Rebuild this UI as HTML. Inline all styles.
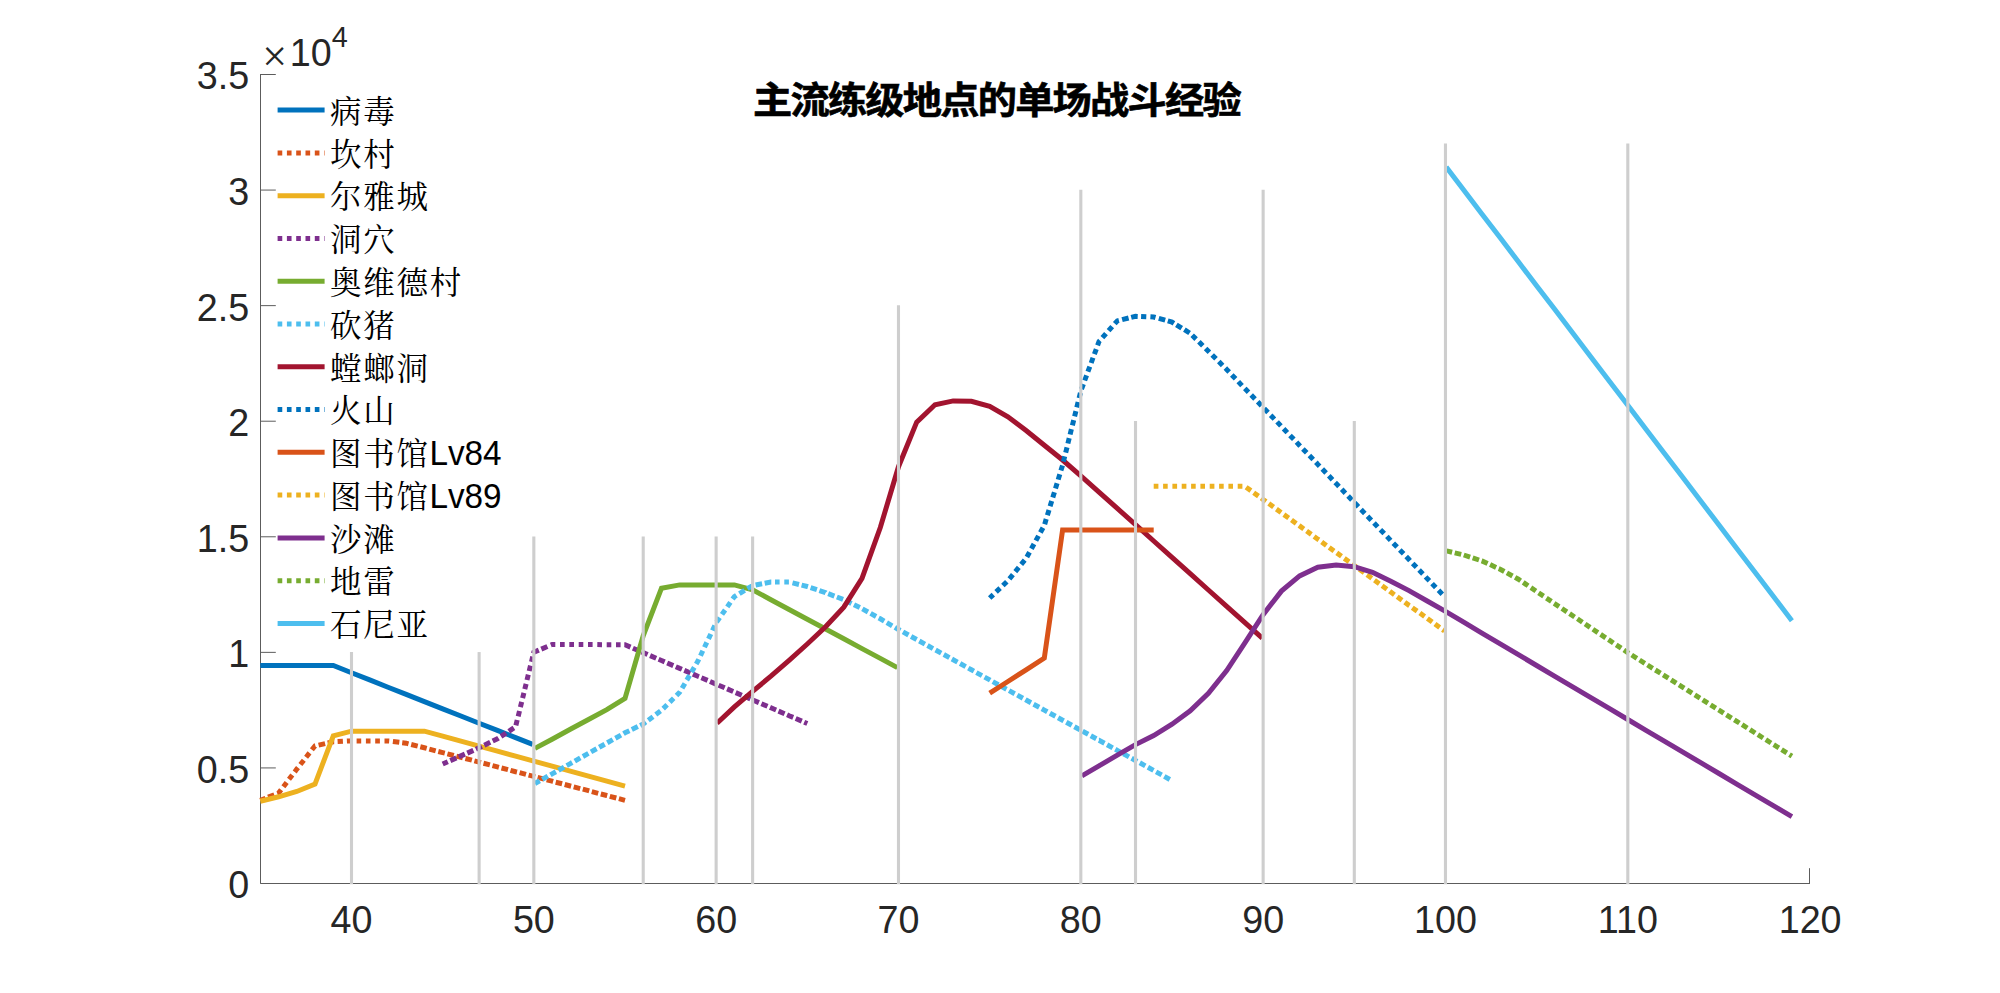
<!DOCTYPE html>
<html lang="zh-CN">
<head>
<meta charset="utf-8">
<title>主流练级地点的单场战斗经验</title>
<style>
html,body{margin:0;padding:0;background:#fff;}
body{width:2000px;height:993px;overflow:hidden;}
svg{display:block;}
.tk{font-family:"Liberation Sans",sans-serif;font-size:37.7px;fill:#262626;}
.lg{font-family:"Liberation Sans","Noto Serif CJK SC",serif;font-size:31.5px;letter-spacing:1.8px;fill:#000;}
.ll{font-family:"Liberation Sans",sans-serif;font-size:34.73px;letter-spacing:0;fill:#000;}
.tt{font-family:"Liberation Sans","Noto Sans CJK SC",sans-serif;font-weight:bold;font-size:39.2px;letter-spacing:-1.74px;fill:#000;stroke:#000;stroke-width:0.7px;}
</style>
</head>
<body>
<svg width="2000" height="993" viewBox="0 0 2000 993">
<rect width="2000" height="993" fill="#fff"/>
<g stroke="#5c5c5c" stroke-width="1" fill="none">
<path d="M260.50 74.00 V883.50 H1810.00"/>
<path d="M260.50 883.50 h15.3"/>
<path d="M260.50 767.93 h15.3"/>
<path d="M260.50 652.36 h15.3"/>
<path d="M260.50 536.79 h15.3"/>
<path d="M260.50 421.21 h15.3"/>
<path d="M260.50 305.64 h15.3"/>
<path d="M260.50 190.07 h15.3"/>
<path d="M260.50 74.50 h15.3"/>
<path d="M351.50 883.50 v-15.3"/>
<path d="M533.83 883.50 v-15.3"/>
<path d="M716.15 883.50 v-15.3"/>
<path d="M898.48 883.50 v-15.3"/>
<path d="M1080.82 883.50 v-15.3"/>
<path d="M1263.14 883.50 v-15.3"/>
<path d="M1445.47 883.50 v-15.3"/>
<path d="M1627.81 883.50 v-15.3"/>
<path d="M1809.50 883.50 v-15.3"/>
</g>
<text class="tk" transform="translate(249.2 898.40) scale(1 1.03)" text-anchor="end">0</text>
<text class="tk" transform="translate(249.2 782.83) scale(1 1.03)" text-anchor="end">0.5</text>
<text class="tk" transform="translate(249.2 667.26) scale(1 1.03)" text-anchor="end">1</text>
<text class="tk" transform="translate(249.2 551.69) scale(1 1.03)" text-anchor="end">1.5</text>
<text class="tk" transform="translate(249.2 436.11) scale(1 1.03)" text-anchor="end">2</text>
<text class="tk" transform="translate(249.2 320.54) scale(1 1.03)" text-anchor="end">2.5</text>
<text class="tk" transform="translate(249.2 204.97) scale(1 1.03)" text-anchor="end">3</text>
<text class="tk" transform="translate(249.2 89.40) scale(1 1.03)" text-anchor="end">3.5</text>
<text class="tk" transform="translate(351.50 933) scale(1 1.03)" text-anchor="middle">40</text>
<text class="tk" transform="translate(533.83 933) scale(1 1.03)" text-anchor="middle">50</text>
<text class="tk" transform="translate(716.15 933) scale(1 1.03)" text-anchor="middle">60</text>
<text class="tk" transform="translate(898.48 933) scale(1 1.03)" text-anchor="middle">70</text>
<text class="tk" transform="translate(1080.82 933) scale(1 1.03)" text-anchor="middle">80</text>
<text class="tk" transform="translate(1263.14 933) scale(1 1.03)" text-anchor="middle">90</text>
<text class="tk" transform="translate(1445.47 933) scale(1 1.03)" text-anchor="middle">100</text>
<text class="tk" transform="translate(1627.81 933) scale(1 1.03)" text-anchor="middle">110</text>
<text class="tk" transform="translate(1810.13 933) scale(1 1.03)" text-anchor="middle">120</text>
<text class="tk" x="262.2" y="71" style="font-family:'Liberation Serif',serif;font-size:44px">×</text>
<text class="tk" transform="translate(289.8 65.8) scale(1 1.03)">10</text>
<text class="tk" transform="translate(331.8 46.9) scale(1 1.03)" style="font-size:28.8px">4</text>
<g transform="translate(753.0 114.1) scale(1 0.944)"><text class="tt" x="0" y="0">主流练级地点的单场战斗经验</text></g>
<g fill="none" stroke-width="5" stroke-linejoin="miter" stroke-linecap="butt">
<polyline stroke="#0072BD" points="260.3,665.5 278.6,665.5 296.8,665.5 315.0,665.5 333.3,665.5 351.5,672.7 369.7,679.9 388.0,687.2 406.2,694.4 424.4,701.6 442.7,708.8 460.9,716.0 479.1,723.2 497.4,730.4 515.6,737.6 532.7,744.4"/>
<path stroke="#D95319" d="M260.3 800.3 L265.6 798.2M268.1 797.2 L274.3 794.8M277.3 793.6 L278.6 793.1 L281.1 789.8M283.4 786.7 L286.7 782.4M289.0 779.3 L292.3 775.0M294.7 771.9 L296.8 769.1 L298.0 767.6M300.4 764.5 L303.8 760.2M306.1 757.2 L309.5 752.9M311.9 749.8 L315.0 745.9 L315.4 745.8M318.6 745.1 L325.1 743.6M327.7 743.0 L333.3 741.8 L334.2 741.8M337.6 741.6 L342.9 741.3M346.9 741.1 L351.5 740.9 L352.2 740.9M356.6 740.9 L361.2 740.9M365.9 740.9 L369.7 740.9 L370.5 740.9M375.2 740.9 L379.9 740.9M384.5 740.9 L388.0 740.9 L389.2 741.0M392.9 741.5 L399.3 742.3M402.2 742.7 L406.2 743.2 L408.5 743.8M411.2 744.5 L417.7 746.1M420.3 746.8 L424.4 747.8 L426.7 748.4M429.3 749.1 L435.7 750.8M438.3 751.5 L442.7 752.6 L444.8 753.1M447.4 753.8 L453.8 755.5M456.4 756.2 L460.9 757.4 L462.8 757.9M465.4 758.5 L471.9 760.2M474.4 760.9 L479.1 762.1 L480.9 762.6M483.5 763.3 L489.9 764.9M492.5 765.6 L497.4 766.9 L498.9 767.3M501.5 768.0 L508.0 769.7M510.5 770.3 L515.6 771.7 L517.0 772.0M519.6 772.7 L526.0 774.4M528.6 775.1 L533.8 776.4 L535.0 776.8M537.6 777.4 L544.1 779.1M546.7 779.8 L552.1 781.2 L553.1 781.5M555.7 782.2 L562.1 783.8M564.7 784.5 L570.3 786.0 L571.1 786.2M573.7 786.9 L580.2 788.6M582.8 789.2 L588.5 790.7 L589.2 790.9M591.8 791.6 L598.2 793.3M600.8 794.0 L606.8 795.5 L607.2 795.6M609.8 796.3 L616.3 798.0M618.9 798.7 L625.0 800.3"/>
<polyline stroke="#EDB120" points="260.3,801.2 278.6,796.8 296.8,791.5 315.0,784.1 333.3,735.8 351.5,731.2 369.7,731.2 388.0,731.2 406.2,731.2 424.4,731.2 442.7,736.2 460.9,741.2 479.1,746.2 497.4,751.2 515.6,756.2 533.8,761.1 552.1,766.1 570.3,771.1 588.5,776.1 606.8,781.1 625.0,786.1"/>
<path stroke="#7E2F8E" d="M442.7 764.0 L447.8 761.7M450.3 760.6 L456.4 757.9M458.8 756.8 L460.9 755.9 L464.9 754.1M467.3 753.1 L473.4 750.4M475.9 749.3 L479.1 747.8 L481.9 746.5M484.3 745.2 L490.2 742.3M492.7 741.1 L497.4 738.8 L498.5 738.1M501.0 736.4 L506.1 733.1M508.8 731.3 L513.9 727.9M515.9 725.3 L517.2 720.0M518.2 716.3 L519.5 711.0M520.4 707.2 L521.7 701.9M522.6 698.1 L523.9 692.8M524.8 689.1 L526.1 683.8M527.0 680.0 L528.3 674.7M529.2 671.0 L530.5 665.7M531.5 661.9 L532.7 656.6M533.5 653.4 L533.8 652.2 L538.8 650.1M541.3 649.1 L547.4 646.5M550.8 645.0 L552.1 644.5 L555.3 644.5M560.0 644.5 L564.7 644.5M569.3 644.6 L570.3 644.6 L574.0 644.6M578.7 644.6 L583.3 644.6M588.0 644.6 L588.5 644.6 L592.6 644.6M597.3 644.6 L602.0 644.7M606.7 644.7 L606.8 644.7 L611.3 644.7M616.0 644.7 L620.6 644.7M624.3 644.7 L625.0 644.7 L630.5 647.1M632.9 648.2 L639.0 650.8M641.5 651.9 L643.2 652.6 L647.6 654.5M650.1 655.6 L656.2 658.2M658.6 659.3 L661.5 660.5 L664.7 661.9M667.2 663.0 L673.3 665.6M675.8 666.7 L679.7 668.4 L681.9 669.3M684.3 670.4 L690.4 673.0M692.9 674.1 L697.9 676.3 L699.0 676.7M701.4 677.8 L707.6 680.4M710.0 681.5 L716.1 684.1M718.6 685.2 L724.7 687.8M727.1 688.9 L733.2 691.5M735.7 692.6 L741.8 695.2M744.3 696.3 L750.4 698.9M752.8 700.0 L758.9 702.6M761.4 703.7 L767.5 706.3M770.0 707.4 L770.9 707.8 L776.1 710.0M778.5 711.1 L784.6 713.7M787.1 714.8 L789.1 715.7 L793.2 717.4M795.7 718.5 L801.8 721.1M804.2 722.2 L807.3 723.5"/>
<polyline stroke="#77AC30" points="534.9,748.4 552.1,739.2 570.3,729.3 588.5,719.5 606.8,709.7 625.0,698.4 643.2,635.9 661.5,588.2 679.7,584.9 697.9,584.9 716.2,584.9 734.4,584.9 752.6,589.9 770.9,599.7 789.1,609.5 807.3,619.3 825.6,629.0 843.8,638.8 862.0,648.6 880.3,658.4 897.4,667.6"/>
<path stroke="#4DBEEE" d="M534.9 783.5 L539.7 780.8M542.3 779.4 L547.8 776.2M550.4 774.8 L552.1 773.8 L555.9 771.7M558.5 770.2 L564.1 767.1M566.7 765.6 L570.3 763.6 L572.2 762.5M574.8 761.1 L580.3 757.9M582.9 756.5 L588.4 753.4M591.0 751.9 L596.6 748.8M599.2 747.3 L604.7 744.2M607.3 742.7 L612.8 739.6M615.4 738.2 L621.0 735.1M623.5 733.7 L625.0 732.8 L629.4 730.7M631.8 729.5 L637.8 726.6M640.2 725.5 L643.2 724.0 L645.8 722.1M648.3 720.2 L653.0 716.7M655.8 714.6 L660.5 711.1M663.2 708.6 L667.1 704.8M669.8 702.1 L673.7 698.3M676.5 695.5 L679.7 692.3 L680.2 691.5M682.1 688.2 L684.9 683.5M686.8 680.1 L689.6 675.4M691.5 672.1 L694.3 667.4M696.2 664.0 L697.9 661.1 L698.8 659.2M700.5 655.7 L702.8 650.8M704.5 647.3 L706.8 642.4M708.5 638.9 L710.8 634.0M712.5 630.5 L714.8 625.5M716.6 622.1 L719.7 617.6M722.0 614.4 L725.1 610.0M727.3 606.8 L730.4 602.3M732.6 599.1 L734.4 596.7 L736.4 595.4M739.4 593.6 L744.7 590.4M747.4 588.7 L752.6 585.6 L752.7 585.5M755.6 585.0 L762.1 583.8M764.7 583.3 L770.9 582.1 L771.3 582.1M775.0 582.1 L779.6 582.1M784.3 582.1 L788.9 582.1M792.5 582.9 L799.0 584.5M801.6 585.1 L807.3 586.5 L808.0 586.7M810.6 587.6 L816.9 589.7M819.4 590.6 L825.6 592.7 L825.7 592.8M828.2 593.7 L834.4 596.1M836.9 597.0 L843.1 599.4M845.6 600.6 L851.5 603.5M854.0 604.7 L859.8 607.6M862.4 608.9 L868.0 612.0M870.6 613.4 L876.1 616.5M878.7 618.0 L880.3 618.8 L884.2 621.1M886.8 622.7 L892.2 625.8M894.9 627.4 L898.5 629.5 L900.3 630.5M903.0 631.9 L908.5 635.0M911.1 636.5 L916.7 639.5M919.3 641.0 L924.9 644.1M927.5 645.5 L933.0 648.6M935.6 650.0 L941.2 653.1M943.8 654.5 L949.4 657.6M951.9 659.0 L953.2 659.7 L957.5 662.1M960.1 663.5 L965.7 666.6M968.3 668.1 L971.4 669.8 L973.9 671.1M976.4 672.6 L982.0 675.6M984.6 677.1 L989.7 679.9 L990.2 680.2M992.8 681.6 L998.4 684.7M1000.9 686.1 L1006.5 689.2M1009.1 690.6 L1014.7 693.7M1017.3 695.1 L1022.9 698.2M1025.4 699.6 L1026.1 700.0 L1031.0 702.7M1033.6 704.2 L1039.2 707.2M1041.8 708.7 L1044.3 710.1 L1047.3 711.8M1049.9 713.2 L1055.5 716.3M1058.1 717.7 L1062.6 720.2 L1063.7 720.8M1066.3 722.2 L1071.8 725.3M1074.4 726.7 L1080.0 729.8M1082.6 731.2 L1088.2 734.3M1090.8 735.8 L1096.3 738.8M1098.9 740.3 L1099.0 740.3 L1104.5 743.3M1107.1 744.8 L1112.7 747.9M1115.3 749.3 L1117.3 750.4 L1120.8 752.4M1123.4 753.8 L1129.0 756.9M1131.6 758.3 L1135.5 760.5 L1137.2 761.4M1139.8 762.8 L1145.3 765.9M1147.9 767.3 L1153.5 770.4M1156.1 771.9 L1161.7 774.9M1164.3 776.4 L1169.8 779.5"/>
<polyline stroke="#A2142F" points="717.0,723.2 734.4,706.9 752.6,691.3 770.9,676.2 789.1,660.4 807.3,644.0 825.6,626.8 843.8,607.1 862.0,578.4 880.3,527.5 898.5,466.7 916.7,422.1 935.0,404.8 953.2,400.9 971.4,401.3 989.7,406.4 1007.9,416.8 1026.1,430.5 1044.3,445.3 1062.6,460.0 1080.8,475.8 1099.0,492.1 1117.3,508.4 1135.5,524.7 1153.7,541.0 1172.0,557.4 1190.2,573.7 1208.4,590.0 1226.7,606.3 1244.9,622.6 1262.3,638.2"/>
<path stroke="#0072BD" d="M989.7 598.0 L993.3 594.6M996.1 591.9 L1000.1 588.1M1002.9 585.5 L1006.8 581.7M1009.4 578.8 L1012.9 574.6M1015.3 571.6 L1018.8 567.4M1021.2 564.4 L1024.7 560.2M1026.9 557.0 L1029.5 552.2M1031.4 548.8 L1034.0 544.0M1035.9 540.6 L1038.5 535.9M1040.4 532.5 L1043.0 527.7M1044.7 524.2 L1046.2 519.0M1047.4 515.3 L1049.0 510.0M1050.1 506.3 L1051.7 501.1M1052.8 497.4 L1054.4 492.2M1055.5 488.5 L1057.1 483.3M1058.2 479.6 L1059.8 474.3M1060.9 470.6 L1062.5 465.4M1063.4 461.6 L1064.7 456.4M1065.7 452.6 L1067.0 447.3M1067.9 443.5 L1069.2 438.2M1070.1 434.5 L1071.4 429.2M1072.4 425.4 L1073.7 420.1M1074.6 416.4 L1075.9 411.1M1076.8 407.3 L1078.1 402.0M1079.1 398.2 L1080.4 392.9M1081.5 389.2 L1083.4 384.1M1084.7 380.5 L1086.6 375.4M1087.9 371.7 L1089.8 366.6M1091.2 363.0 L1093.0 357.8M1094.4 354.2 L1096.3 349.1M1097.6 345.4 L1099.0 341.5 L1099.9 340.6M1102.4 337.7 L1106.0 333.6M1108.6 330.7 L1112.2 326.6M1114.8 323.7 L1117.3 320.9 L1118.9 320.5M1122.1 319.7 L1128.6 318.0M1131.2 317.4 L1135.5 316.3 L1137.7 316.4M1141.1 316.5 L1146.3 316.7M1150.4 316.8 L1153.7 317.0 L1155.5 317.5M1158.8 318.4 L1165.2 320.2M1167.8 320.9 L1172.0 322.1 L1173.9 323.3M1176.4 324.8 L1181.7 328.1M1184.4 329.7 L1189.6 333.0M1192.2 335.3 L1196.1 339.1M1198.9 341.8 L1202.8 345.7M1205.6 348.4 L1208.4 351.2 L1209.4 352.2M1212.2 354.9 L1216.0 358.8M1218.8 361.5 L1222.6 365.4M1225.4 368.1 L1226.7 369.4 L1229.2 372.0M1231.8 374.9 L1235.6 378.8M1238.3 381.6 L1242.0 385.6M1244.7 388.4 L1244.9 388.6 L1248.5 392.3M1251.2 395.1 L1255.0 399.0M1257.7 401.8 L1261.5 405.7M1264.2 408.5 L1268.0 412.4M1270.7 415.2 L1274.4 419.1M1277.1 421.9 L1280.9 425.9M1283.6 428.7 L1287.3 432.6M1290.0 435.4 L1293.8 439.3M1296.5 442.1 L1299.6 445.4 L1300.3 446.1M1302.9 448.9 L1306.7 452.8M1309.4 455.6 L1313.2 459.5M1315.9 462.3 L1317.8 464.4 L1319.6 466.3M1322.3 469.1 L1326.1 473.0M1328.8 475.8 L1332.5 479.7M1335.2 482.5 L1336.1 483.4 L1339.0 486.5M1341.7 489.3 L1345.4 493.2M1348.1 496.0 L1351.9 500.0M1354.6 502.8 L1358.4 506.7M1361.0 509.5 L1364.8 513.4M1367.5 516.2 L1371.3 520.2M1374.0 523.0 L1377.7 526.9M1380.4 529.7 L1384.2 533.6M1386.9 536.4 L1390.6 540.4M1393.3 543.2 L1397.1 547.1M1399.8 549.9 L1403.6 553.8M1406.2 556.6 L1409.0 559.5 L1410.0 560.6M1412.7 563.4 L1416.5 567.3M1419.1 570.1 L1422.9 574.0M1425.6 576.8 L1427.2 578.6 L1429.4 580.8M1432.1 583.6 L1435.8 587.5M1438.5 590.3 L1442.3 594.2"/>
<polyline stroke="#D95319" points="989.7,693.1 1007.9,681.5 1026.1,669.8 1044.3,658.1 1062.6,529.9 1080.8,529.9 1099.0,529.9 1117.3,529.9 1135.5,529.9 1153.7,529.9"/>
<path stroke="#EDB120" d="M1153.7 486.3 L1158.4 486.3M1163.1 486.3 L1167.7 486.3M1172.4 486.3 L1177.1 486.3M1181.7 486.3 L1186.4 486.3M1191.1 486.3 L1195.7 486.3M1200.4 486.3 L1205.0 486.3M1209.7 486.3 L1214.4 486.3M1219.1 486.3 L1223.7 486.3M1228.4 486.3 L1233.0 486.3M1237.7 486.3 L1242.4 486.3M1246.1 487.2 L1250.9 490.6M1253.7 492.7 L1258.5 496.1M1261.3 498.1 L1263.1 499.5 L1266.0 501.6M1268.8 503.6 L1273.6 507.1M1276.4 509.1 L1281.1 512.5M1283.9 514.6 L1288.7 518.0M1291.5 520.0 L1296.2 523.5M1299.0 525.5 L1299.6 525.9 L1303.8 529.0M1306.6 531.0 L1311.3 534.4M1314.1 536.5 L1317.8 539.2 L1318.9 539.9M1321.7 541.9 L1326.4 545.4M1329.2 547.4 L1334.0 550.9M1336.8 552.9 L1341.5 556.3M1344.3 558.4 L1349.1 561.8M1351.9 563.9 L1354.3 565.6 L1356.6 567.3M1359.4 569.3 L1364.2 572.8M1367.0 574.8 L1371.8 578.3M1374.5 580.3 L1379.3 583.7M1382.1 585.8 L1386.9 589.2M1389.7 591.2 L1390.8 592.1 L1394.4 594.7M1397.2 596.7 L1402.0 600.2M1404.8 602.2 L1409.0 605.3 L1409.5 605.6M1412.3 607.7 L1417.1 611.1M1419.9 613.1 L1424.6 616.6M1427.4 618.6 L1432.2 622.1M1435.0 624.1 L1439.7 627.6M1442.5 629.6 L1444.5 631.0"/>
<polyline stroke="#7E2F8E" points="1081.9,775.8 1099.0,765.8 1117.3,755.2 1135.5,744.6 1153.7,735.6 1172.0,724.2 1190.2,710.8 1208.4,693.3 1226.7,670.6 1244.9,642.8 1263.1,614.6 1281.4,591.1 1299.6,575.9 1317.8,567.3 1336.1,564.9 1354.3,566.7 1372.5,572.3 1390.8,581.2 1409.0,590.6 1427.2,601.0 1445.5,611.4 1463.7,622.2 1481.9,633.1 1500.2,643.9 1518.4,654.7 1536.6,665.5 1554.9,676.3 1573.1,687.1 1591.3,697.9 1609.6,708.7 1627.8,719.5 1646.0,730.3 1664.3,741.1 1682.5,751.9 1700.7,762.7 1719.0,773.5 1737.2,784.3 1755.4,795.1 1773.7,805.9 1791.9,816.7"/>
<path stroke="#77AC30" d="M1446.6 550.9 L1452.1 552.2M1454.7 552.9 L1461.2 554.4M1463.8 555.0 L1470.1 557.1M1472.7 557.9 L1479.0 560.0M1481.6 560.8 L1481.9 560.9 L1487.6 563.5M1490.1 564.6 L1496.1 567.4M1498.7 568.6 L1500.2 569.2 L1504.3 571.5M1506.9 572.9 L1512.5 576.0M1515.1 577.4 L1518.4 579.2 L1520.6 580.7M1523.2 582.4 L1528.1 585.8M1530.9 587.7 L1535.9 591.0M1538.6 592.9 L1543.6 596.2M1546.4 598.1 L1551.4 601.4M1554.1 603.3 L1554.9 603.8 L1559.1 606.6M1561.9 608.5 L1566.9 611.8M1569.6 613.6 L1573.1 616.0 L1574.6 617.0M1577.4 618.8 L1582.4 622.2M1585.1 624.0 L1590.1 627.4M1592.9 629.2 L1597.9 632.6M1600.6 634.4 L1605.7 637.8M1608.4 639.6 L1609.6 640.4 L1613.4 643.0M1616.2 644.8 L1621.2 648.1M1623.9 650.0 L1627.8 652.6 L1628.9 653.3M1631.7 655.0 L1636.9 658.3M1639.6 660.0 L1644.8 663.3M1647.5 665.0 L1652.7 668.3M1655.3 670.0 L1660.5 673.2M1663.2 674.9 L1664.3 675.6 L1668.4 678.2M1671.1 679.9 L1676.3 683.2M1679.0 684.9 L1682.5 687.1 L1684.2 688.2M1686.9 689.9 L1692.1 693.2M1694.8 694.9 L1700.0 698.1M1702.7 699.8 L1707.9 703.1M1710.6 704.8 L1715.8 708.1M1718.5 709.8 L1719.0 710.1 L1723.7 713.1M1726.4 714.8 L1731.6 718.1M1734.3 719.8 L1737.2 721.6 L1739.4 723.0M1742.1 724.7 L1747.3 728.0M1750.0 729.7 L1755.2 733.0M1757.9 734.7 L1763.1 738.0M1765.8 739.7 L1771.0 743.0M1773.7 744.7 L1778.9 747.9M1781.6 749.6 L1786.8 752.9M1789.5 754.6 L1791.9 756.1"/>
<polyline stroke="#4DBEEE" points="1446.2,167.0 1463.7,190.0 1481.9,213.9 1500.2,237.8 1518.4,261.8 1536.6,285.7 1554.9,309.6 1573.1,333.5 1591.3,357.5 1609.6,381.4 1627.8,405.3 1646.0,429.3 1664.3,453.2 1682.5,477.1 1700.7,501.0 1719.0,525.0 1737.2,548.9 1755.4,572.8 1773.7,596.8 1791.9,620.7"/>
</g>
<g stroke="#cecece" stroke-width="3.1" fill="none">
<path d="M351.50 884.30 V652.06"/>
<path d="M479.13 884.30 V652.06"/>
<path d="M533.83 884.30 V536.49"/>
<path d="M643.22 884.30 V536.49"/>
<path d="M716.15 884.30 V536.49"/>
<path d="M752.62 884.30 V536.49"/>
<path d="M898.48 884.30 V305.34"/>
<path d="M1080.82 884.30 V189.77"/>
<path d="M1135.51 884.30 V420.91"/>
<path d="M1263.14 884.30 V189.77"/>
<path d="M1354.31 884.30 V420.91"/>
<path d="M1445.47 884.30 V143.54"/>
<path d="M1627.81 884.30 V143.54"/>
</g>
<g fill="none" stroke-width="5">
<path stroke="#0072BD" d="M277.6 110.10 H324.6"/>
<path stroke="#D95319" stroke-dasharray="4.65 4.65" d="M277.6 152.88 H324.6"/>
<path stroke="#EDB120" d="M277.6 195.66 H324.6"/>
<path stroke="#7E2F8E" stroke-dasharray="4.65 4.65" d="M277.6 238.44 H324.6"/>
<path stroke="#77AC30" d="M277.6 281.22 H324.6"/>
<path stroke="#4DBEEE" stroke-dasharray="4.65 4.65" d="M277.6 324.00 H324.6"/>
<path stroke="#A2142F" d="M277.6 366.78 H324.6"/>
<path stroke="#0072BD" stroke-dasharray="4.65 4.65" d="M277.6 409.56 H324.6"/>
<path stroke="#D95319" d="M277.6 452.34 H324.6"/>
<path stroke="#EDB120" stroke-dasharray="4.65 4.65" d="M277.6 495.12 H324.6"/>
<path stroke="#7E2F8E" d="M277.6 537.90 H324.6"/>
<path stroke="#77AC30" stroke-dasharray="4.65 4.65" d="M277.6 580.68 H324.6"/>
<path stroke="#4DBEEE" d="M277.6 623.46 H324.6"/>
</g>
<text class="lg" x="329.9" y="122.90">病毒</text>
<text class="lg" x="329.9" y="165.68">坎村</text>
<text class="lg" x="329.9" y="208.46">尔雅城</text>
<text class="lg" x="329.9" y="251.24">洞穴</text>
<text class="lg" x="329.9" y="294.02">奥维德村</text>
<text class="lg" x="329.9" y="336.80">砍猪</text>
<text class="lg" x="329.9" y="379.58">螳螂洞</text>
<text class="lg" x="329.9" y="422.36">火山</text>
<text class="lg" x="329.9" y="465.14">图书馆<tspan class="ll" x="429.40" y="465.19" textLength="72.2" lengthAdjust="spacingAndGlyphs">Lv84</tspan></text>
<text class="lg" x="329.9" y="507.92">图书馆<tspan class="ll" x="429.40" y="507.97" textLength="72.2" lengthAdjust="spacingAndGlyphs">Lv89</tspan></text>
<text class="lg" x="329.9" y="550.70">沙滩</text>
<text class="lg" x="329.9" y="593.48">地雷</text>
<text class="lg" x="329.9" y="636.26">石尼亚</text>
</svg>
</body>
</html>
